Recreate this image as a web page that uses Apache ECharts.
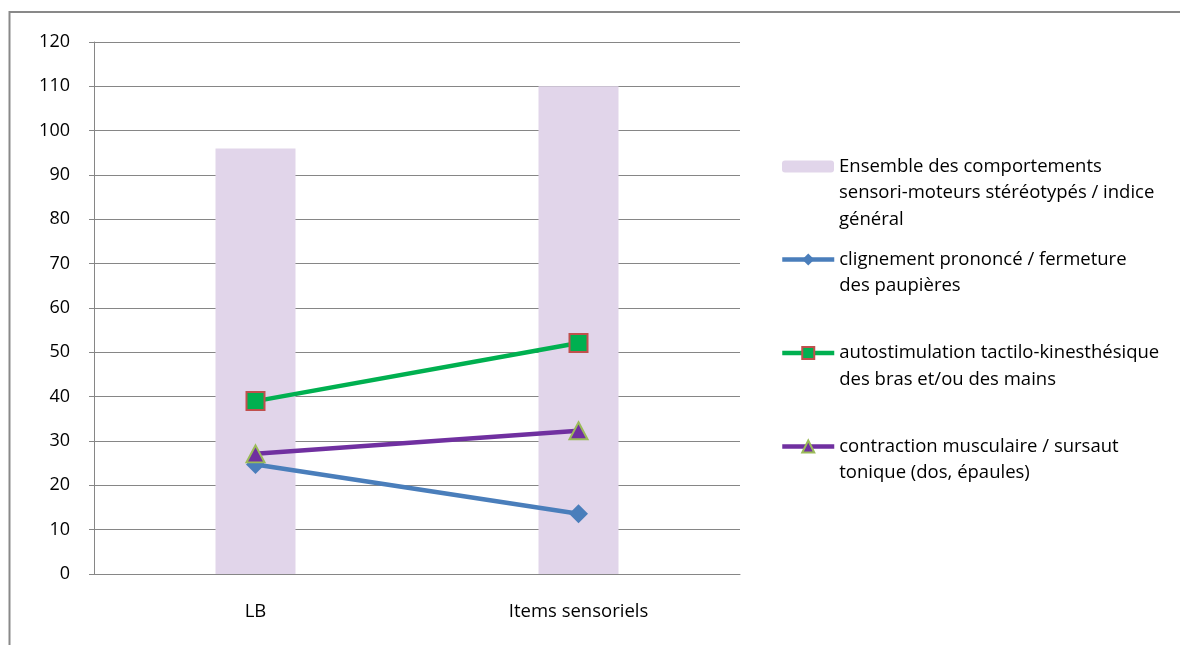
<!DOCTYPE html>
<html>
<head>
<meta charset="utf-8">
<script src="https://cdn.jsdelivr.net/npm/echarts@6/dist/echarts.min.js"></script>
<style>
html,body{margin:0;padding:0;background:#fff;}
#chart{width:1180px;height:645px;}
</style>
</head>
<body>
<div id="chart"></div>
<script>
const categories = ['LB', 'Items sensoriels'];
const barName = 'Ensemble des comportements sensori-moteurs stéréotypés / indice général';
const barValues = [96, 110];
const blueName = 'clignement prononcé / fermeture des paupières';
const blueValues = [24.7, 13.6];
const greenName = 'autostimulation tactilo-kinesthésique des bras et/ou des mains';
const greenValues = [39, 52.1];
const purpleName = 'contraction musculaire / sursaut tonique (dos, épaules)';
const purpleValues = [27.1, 32.3];
const legendLines = {};
legendLines[barName] = ['Ensemble des comportements', 'sensori-moteurs stéréotypés / indice', 'général'];
legendLines[blueName] = ['clignement prononcé / fermeture', 'des paupières'];
legendLines[greenName] = ['autostimulation tactilo-kinesthésique', 'des bras et/ou des mains'];
legendLines[purpleName] = ['contraction musculaire / sursaut', 'tonique (dos, épaules)'];

const FONT = '"Open Sans", sans-serif';
const FS = 18.5;
const LH = 26.5;
function makeLegend(name, firstLineCenter, iconH, left) {
  const n = legendLines[name].length;
  // blank lines above so that the icon (centred on the block) sits on the first text line
  const totalLines = 2 * n - 1;
  return {
    data: [name],
    orient: 'vertical',
    left: left,
    top: firstLineCenter - (totalLines * LH) / 2,
    padding: 0,
    itemWidth: 52,
    itemHeight: iconH,
    selectedMode: false,
    lineStyle: {width: 4.5},
    formatter: nm => '\n'.repeat(n - 1) + legendLines[nm].join('\n'),
    textStyle: {fontFamily: FONT, fontSize: FS, color: '#000', lineHeight: LH}
  };
}

const chart = echarts.init(document.getElementById('chart'));
chart.setOption({
  animation: false,
  backgroundColor: '#fff',
  graphic: [{
    type: 'rect', left: 7, top: 9.5, silent: true,
    shape: {width: 1250, height: 700},
    style: {fill: 'none', stroke: '#898989', lineWidth: 2}
  }],
  grid: {left: 94, right: 440, top: 42, bottom: 71},
  legend: [
    makeLegend(barName, 166.5, 12, 782),
    makeLegend(blueName, 259.5, 15, 780),
    makeLegend(greenName, 353, 15, 780),
    makeLegend(purpleName, 446.5, 15, 780)
  ],
  xAxis: {
    type: 'category',
    data: categories,
    axisLine: {lineStyle: {color: '#868686', width: 1}},
    axisTick: {show: false},
    axisLabel: {fontFamily: FONT, fontSize: FS, color: '#000', margin: 28}
  },
  yAxis: {
    type: 'value',
    min: 0, max: 120, interval: 10,
    axisLine: {show: true, lineStyle: {color: '#868686', width: 1}},
    axisTick: {show: true, length: 5, lineStyle: {color: '#868686'}},
    splitLine: {lineStyle: {color: '#868686', width: 1}},
    axisLabel: {fontFamily: FONT, fontSize: 18, color: '#000', margin: 24}
  },
  series: [
    {
      name: barName, type: 'bar', data: barValues, barWidth: 80,
      itemStyle: {color: '#e1d5ea'}
    },
    {
      name: blueName, type: 'line', data: blueValues,
      symbol: 'diamond', symbolSize: 19,
      lineStyle: {color: '#4a7ebb', width: 4.5},
      itemStyle: {color: '#4a7ebb'}
    },
    {
      name: greenName, type: 'line', data: greenValues,
      symbol: 'rect', symbolSize: 18,
      lineStyle: {color: '#00b050', width: 4.5},
      itemStyle: {color: '#00b050', borderColor: '#c0504d', borderWidth: 2}
    },
    {
      name: purpleName, type: 'line', data: purpleValues,
      symbol: 'triangle', symbolSize: [18, 17],
      lineStyle: {color: '#7030a0', width: 4.5},
      itemStyle: {color: '#7030a0', borderColor: '#9bbb59', borderWidth: 2}
    }
  ]
});
</script>
</body>
</html>
